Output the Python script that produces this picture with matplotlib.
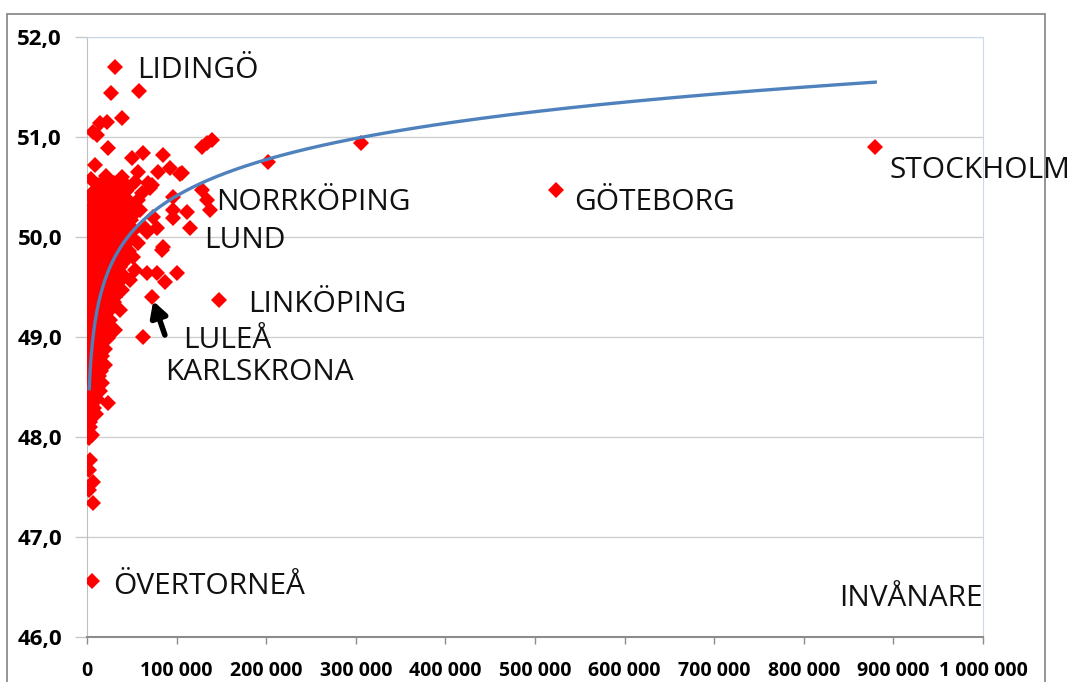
import matplotlib.pyplot as plt
import numpy as np
from matplotlib.patches import Rectangle
from matplotlib.ticker import FuncFormatter

# kommuner: invånare och värde (y) - spridda punkter
pop = [
    31200, 26700, 57900, 39000, 22300, 14500, 6700, 11100, 23400, 8900,
    50100, 62400, 84600, 56800, 39000, 79100, 92400, 103600, 16700, 29000,
    45700, 67900, 53500, 72400, 44500, 8900, 61200, 70200, 40100, 95800,
    128100, 133600, 137000, 111400, 95800, 59000, 95800, 73500, 114700, 78000,
    64600, 47900, 84600, 56800, 66800, 83500, 56800, 39000, 128100, 133600,
    139200, 201600, 306200, 105800, 51200, 40100, 53500, 47900, 39000, 31200,
    36700, 25600, 31200, 23400, 16700, 66800, 78000, 86900, 100200, 72400,
    62400, 147000, 523400, 879700, 5600,
    # nedre svansen
    2500, 20000, 16700, 23400, 5600, 6700, 3300, 5600, 2500, 3300,
    2500, 6700, 2500, 6700,
]
val = [
    51.70, 51.44, 51.46, 51.19, 51.15, 51.14, 51.05, 51.02, 50.89, 50.72,
    50.79, 50.84, 50.82, 50.65, 50.60, 50.65, 50.69, 50.63, 50.54, 50.52,
    50.50, 50.54, 50.55, 50.52, 50.47, 50.42, 50.44, 50.49, 50.44, 50.40,
    50.47, 50.37, 50.27, 50.25, 50.27, 50.27, 50.19, 50.20, 50.09, 50.09,
    50.09, 49.99, 49.90, 49.94, 50.05, 49.87, 50.37, 50.39, 50.90, 50.94,
    50.97, 50.75, 50.94, 50.64, 49.80, 49.74, 49.67, 49.57, 49.47, 49.40,
    49.27, 49.17, 49.07, 48.99, 48.87, 49.64, 49.64, 49.55, 49.64, 49.40,
    49.00, 49.37, 50.47, 50.90, 46.56,
    48.74, 48.72, 48.54, 48.34, 48.37, 48.24, 48.10, 48.02, 47.99, 47.77,
    47.67, 47.55, 47.47, 47.34,
]

# tät klump av små kommuner nära noll
cluster_pop = [
    4000, 12000, 21000, 30000, 38000,
    8000, 17000, 26000, 34000, 43000,
    3000, 12000, 20000, 29000, 37000, 47000,
    7000, 16000, 24000, 33000, 41000, 50000,
    3000, 11000, 19000, 28000, 36000, 45000, 54000,
    6000, 15000, 23000, 32000, 40000, 49000,
    3000, 10000, 18000, 27000, 35000, 44000, 53000,
    6000, 14000, 22000, 31000, 39000, 48000,
    3000, 10000, 18000, 26000, 35000, 43000,
    6000, 14000, 22000, 30000, 39000, 47000,
    3000, 10000, 18000, 26000, 34000, 42000,
    6000, 13000, 21000, 29000, 37000,
    3000, 10000, 17000, 25000, 33000, 40000,
    6000, 13000, 21000, 28000, 36000,
    3000, 10000, 17000, 24000, 32000,
    6000, 13000, 20000, 27000,
    3000, 9000, 16000, 23000, 30000,
    6000, 12000, 19000, 26000,
    3000, 9000, 15000, 22000,
    6000, 12000, 18000, 25000,
    3000, 9000, 15000, 21000,
    6000, 12000, 18000,
    3000, 9000, 15000, 20000,
    5000, 11000, 17000,
    3000, 8000, 14000,
    5000, 11000, 16000,
    3000, 8000, 13000,
    5000, 10000,
    3000, 8000, 14000,
    5000, 11000,
    3000, 8000,
    5000, 10000,
    3000,
]
cluster_val = [
    50.58, 50.52, 50.61, 50.54, 50.57,
    50.46, 50.49, 50.44, 50.50, 50.46,
    50.40, 50.38, 50.42, 50.37, 50.41, 50.36,
    50.32, 50.30, 50.33, 50.31, 50.29, 50.32,
    50.25, 50.24, 50.26, 50.23, 50.25, 50.22, 50.24,
    50.17, 50.18, 50.16, 50.18, 50.15, 50.17,
    50.10, 50.09, 50.11, 50.08, 50.10, 50.09, 50.07,
    50.02, 50.03, 50.01, 50.02, 50.00, 50.01,
    49.95, 49.94, 49.96, 49.93, 49.95, 49.93,
    49.87, 49.88, 49.86, 49.87, 49.85, 49.86,
    49.80, 49.79, 49.81, 49.78, 49.80, 49.77,
    49.72, 49.73, 49.71, 49.72, 49.70,
    49.65, 49.64, 49.66, 49.63, 49.65, 49.62,
    49.57, 49.58, 49.56, 49.57, 49.55,
    49.50, 49.49, 49.51, 49.48, 49.50,
    49.42, 49.43, 49.41, 49.42,
    49.35, 49.34, 49.36, 49.33, 49.35,
    49.27, 49.28, 49.26, 49.27,
    49.20, 49.19, 49.21, 49.18,
    49.12, 49.13, 49.11, 49.12,
    49.05, 49.04, 49.06, 49.03,
    48.97, 48.98, 48.96,
    48.90, 48.89, 48.91, 48.88,
    48.82, 48.83, 48.81,
    48.75, 48.74, 48.76,
    48.67, 48.68, 48.66,
    48.60, 48.59, 48.61,
    48.52, 48.53,
    48.45, 48.44, 48.46,
    48.37, 48.38,
    48.30, 48.29,
    48.22, 48.23,
    48.15,
]

# namngivna kommuner
city_names = ['LIDINGÖ', 'STOCKHOLM', 'GÖTEBORG', 'NORRKÖPING', 'LUND',
              'LINKÖPING', 'LULEÅ', 'KARLSKRONA', 'ÖVERTORNEÅ']
city_pop = [31200, 879700, 523400, 137000, 114700, 147000, 72400, 62400, 5600]
city_val = [51.70, 50.90, 50.47, 50.27, 50.09, 49.37, 49.40, 49.00, 46.56]

# logaritmisk trendlinje y = a*ln(x) + b (avläst)
trend_a = 0.523
trend_b = 44.39
trend_start = 2500

x_ticks = [0, 100000, 200000, 300000, 400000, 500000, 600000, 700000,
           800000, 900000, 1000000]
y_ticks = [46, 47, 48, 49, 50, 51, 52]

# textens förskjutning från punkten i pixlar (dx, dy)
label_offsets = {
    'LIDINGÖ': (22, -3), 'STOCKHOLM': (14, -24), 'GÖTEBORG': (18, -13),
    'NORRKÖPING': (6, 7), 'LUND': (14, -12), 'LINKÖPING': (29, -5),
    'LULEÅ': (31, -43), 'KARLSKRONA': (22, -36), 'ÖVERTORNEÅ': (21, -5),
}

W, H = 1078, 682
fig = plt.figure(figsize=(W / 100, H / 100), dpi=100)
ax = fig.add_axes([87 / W, 1 - 637 / H, (983 - 87) / W, (637 - 37) / H])

# yttre ram
fig.add_artist(Rectangle((7 / W, -0.05), (1045 - 7) / W, 1.05 - 14 / H,
                         transform=fig.transFigure, fill=False,
                         edgecolor='#8c8c8c', linewidth=1.3, zorder=-1))

all_pop = pop + cluster_pop
all_val = val + cluster_val
ax.plot(all_pop, all_val, linestyle='none', marker='D', markersize=8.3,
        markeredgewidth=0, color='#ff0000', zorder=3)

xs = np.linspace(trend_start, max(all_pop), 800)
ax.plot(xs, trend_a * np.log(xs) + trend_b, color='#4f81bd', linewidth=2.4,
        zorder=4)

px2pt = 0.72
for name, x, y in zip(city_names, city_pop, city_val):
    dx, dy = label_offsets[name]
    ax.annotate(name, (x, y), xytext=(dx * px2pt, dy * px2pt),
                textcoords='offset points', ha='left', va='center',
                fontsize=21.5, fontfamily='Open Sans', color='#111111',
                zorder=5, annotation_clip=False)

# pil mot Luleå
ax.annotate('', xy=(city_pop[6], city_val[6]), xytext=(13 * px2pt, -38 * px2pt),
            textcoords='offset points',
            arrowprops=dict(arrowstyle='-|>,head_length=0.9,head_width=0.5',
                            color='black', lw=4, shrinkA=0, shrinkB=3),
            zorder=6)

ax.text(1.0, 0.065, 'INVÅNARE', transform=ax.transAxes, ha='right',
        va='center', fontsize=21.5, fontfamily='Open Sans', color='#111111')

ax.set_xlim(0, 1000000)
ax.set_ylim(46, 52)
ax.set_xticks(x_ticks)
ax.set_yticks(y_ticks)
ax.xaxis.set_major_formatter(FuncFormatter(lambda v, p: f'{int(v):,}'.replace(',', ' ')))
ax.yaxis.set_major_formatter(FuncFormatter(lambda v, p: f'{v:.1f}'.replace('.', ',')))
for lab in ax.get_xticklabels():
    lab.set_fontfamily('Open Sans')
    lab.set_fontweight('bold')
    lab.set_fontsize(14)
for lab in ax.get_yticklabels():
    lab.set_fontfamily('Open Sans')
    lab.set_fontweight('bold')
    lab.set_fontsize(16)
ax.tick_params(axis='x', direction='out', length=5, width=1, color='#8c8c8c', pad=12)
ax.tick_params(axis='y', direction='out', length=9, width=1, color='#c8c8c8', pad=9)

ax.grid(axis='y', color='#d0d0d0', linewidth=1)
ax.set_axisbelow(True)
ax.spines['left'].set_color('#bfbfbf')
ax.spines['bottom'].set_color('#8c8c8c')
ax.spines['bottom'].set_linewidth(1.5)
ax.spines['top'].set_color('#c9d8ec')
ax.spines['right'].set_color('#c9d8ec')

fig.savefig('out.png', dpi=100)
